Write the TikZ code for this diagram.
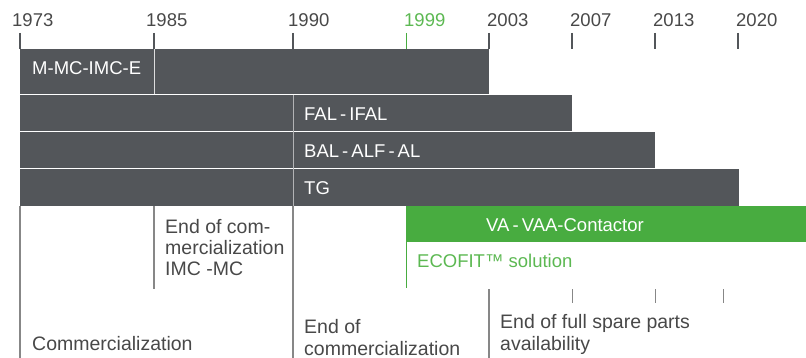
\documentclass[tikz,border=0pt]{standalone}
\usepackage{fontspec}
\setmainfont{Liberation Sans}
\usetikzlibrary{positioning}
\definecolor{barGray}{RGB}{83,86,90}
\definecolor{txtGray}{RGB}{72,72,72}
\definecolor{lineGray}{RGB}{135,135,135}
\definecolor{ecoGreen}{RGB}{72,172,64}
\definecolor{ecoText}{RGB}{92,184,82}
\def\upfont{\fontsize{18.5}{22}\selectfont}
\def\lowfont{\fontsize{19.5}{21.5}\selectfont}

\begin{document}
\begin{tikzpicture}[x=1pt,y=-1pt,
	bar/.style={fill=barGray},
	year/.style={anchor=base west,inner sep=0pt,text=txtGray,font=\upfont},
	inbar/.style={anchor=base west,inner sep=0pt,text=white,font=\upfont},
	note/.style={anchor=base west,inner sep=0pt,text=txtGray,font=\lowfont,align=left},
	tick/.style={draw=barGray,line width=1.3pt},
	rule/.style={draw=lineGray,line width=1.2pt}]
	\useasboundingbox (0,0) rectangle (806,358);
	% years and ticks
	\foreach \yr/\xx/\lx in {1973/20/12,1985/154/146,1990/293/288,2003/489/487,2007/572/570,2013/655/653,2020/738/736}{
		\coordinate (t\yr) at (\xx,33);
		\draw[tick] (t\yr) -- ++(0,16);
		\node[year] (l\yr) at (\lx,27) {\yr};
	}
	\coordinate (t1999) at (406,33);
	\draw[draw=ecoGreen,line width=1pt] (t1999) -- ++(0,16);
	\node[year,text=ecoText] (l1999) at (404,27) {1999};
	% product bars
	\fill[bar] (20,49) rectangle (489,94);
	\fill[bar] (20,95) rectangle (572,131);
	\fill[bar] (20,132) rectangle (655,168);
	\fill[bar] (20,169) rectangle (739,206);
	\draw[draw=white!80!barGray,line width=0.8pt] (154,49) -- (154,94);
	\draw[draw=white!55!barGray,line width=0.8pt] (293,95) -- (293,206);
	\node[inbar] (mmc) at (32,75) {M-MC-IMC-E};
	\node[inbar] (fal) at (304,121) {FAL\,-\,IFAL};
	\node[inbar] (bal) at (304,158) {BAL\,-\,ALF\,-\,AL};
	\node[inbar] (tg) at (304,195) {TG};
	% VA bar and ECOFIT
	\fill[ecoGreen] (406,206) rectangle (806,242);
	\node[inbar,anchor=base] (va) at (565,232) {VA\,-\,VAA-Contactor};
	\draw[draw=ecoGreen,line width=0.8pt] (406,242) -- (406,288);
	\node[year,text=ecoText] (eco) at (417,268) {ECOFIT™ solution};
	% lower rules
	\draw[rule] (20,206) -- (20,358);
	\draw[rule] (154,206) -- (154,289);
	\draw[rule] (293,206) -- (293,358);
	\draw[rule] (489,289) -- (489,358);
	\foreach \xx in {572,655,723}
		\draw[draw=lineGray,line width=0.9pt] (\xx,289) -- (\xx,303);
	% notes (base = last line)
	\node[note] (endimc) at (165,276) {End of com-\\mercialization\\IMC -MC};
	\node[note] (comm) at (32,350) {Commercialization};
	\node[note] (endcomm) at (304,355) {End of\\commercialization};
	\node[note] (spare) at (500,350) {End of full spare parts\\availability};
\end{tikzpicture}
\end{document}
